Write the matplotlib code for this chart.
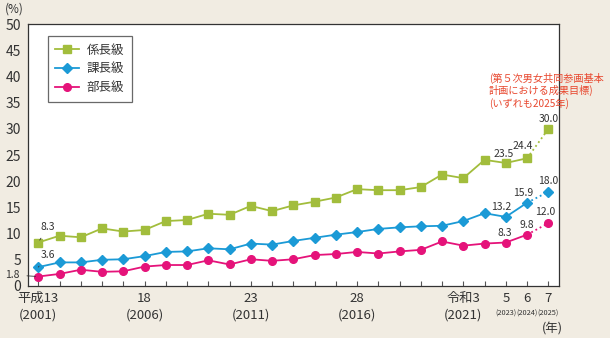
import matplotlib.pyplot as plt

plt.rcParams['font.family'] = ['Noto Sans CJK JP', 'DejaVu Sans']

years = list(range(2001, 2025))
kakari = [8.3, 9.6, 9.3, 11.0, 10.4, 10.7, 12.4, 12.6, 13.8, 13.6, 15.3, 14.3,
          15.4, 16.1, 16.9, 18.5, 18.3, 18.3, 18.9, 21.3, 20.6, 24.1, 23.5, 24.4]
kacho = [3.6, 4.5, 4.5, 5.0, 5.1, 5.7, 6.5, 6.6, 7.2, 7.0, 8.1, 7.9,
         8.6, 9.2, 9.8, 10.3, 10.9, 11.2, 11.4, 11.5, 12.4, 13.9, 13.2, 15.9]
bucho = [1.8, 2.3, 3.1, 2.7, 2.8, 3.7, 4.0, 4.0, 4.9, 4.1, 5.1, 4.8,
         5.1, 5.9, 6.1, 6.5, 6.2, 6.6, 6.9, 8.5, 7.7, 8.1, 8.3, 9.8]
target_year = 2025
targets = {'kakari': 30.0, 'kacho': 18.0, 'bucho': 12.0}

tick_years = [2001, 2006, 2011, 2016, 2021]
tick_top = ['平成13', '18', '23', '28', '令和3']
tick_bottom = ['(2001)', '(2006)', '(2011)', '(2016)', '(2021)']
small_years = [2023, 2024, 2025]
small_top = ['5', '6', '7']

green = '#a2bd3c'
blue = '#1b9ad6'
pink = '#e5137a'
bg = '#f1ece2'
txt = '#333333'

fig = plt.figure(figsize=(6.1, 3.38), dpi=100, facecolor=bg)
ax = fig.add_axes([0.0464, 0.154, 0.8706, 0.774])
ax.set_facecolor('white')

ax.plot(years, kakari, color=green, marker='s', markersize=5.2, lw=1.3, label='係長級')
ax.plot(years, kacho, color=blue, marker='D', markersize=4.8, lw=1.3, label='課長級')
ax.plot(years, bucho, color=pink, marker='o', markersize=5.5, lw=1.3, label='部長級')

# dotted segments to 2025 targets
for vals, key, c, m, ms in [(kakari, 'kakari', green, 's', 5.2),
                            (kacho, 'kacho', blue, 'D', 4.8),
                            (bucho, 'bucho', pink, 'o', 5.5)]:
    ax.plot([years[-1], target_year], [vals[-1], targets[key]], color=c, lw=1.3, ls=':')
    ax.plot([target_year], [targets[key]], color=c, marker=m, markersize=ms, ls='none')

ax.set_xlim(2000.53, 2025.52)
ax.set_ylim(0, 50)
ax.set_yticks(range(0, 51, 5))
ax.tick_params(axis='y', length=0, labelsize=10, colors=txt, pad=5)
ax.set_xticks(range(2001, 2026))
ax.set_xticklabels([])
ax.tick_params(axis='x', direction='in', length=3.5, color='#555555')
for s in ax.spines.values():
    s.set_color('#333333')
    s.set_linewidth(0.9)

for x, t, b in zip(tick_years, tick_top, tick_bottom):
    ax.text(x, -2.4, t, ha='center', va='center', fontsize=9.5, color=txt)
    ax.text(x, -5.5, b, ha='center', va='center', fontsize=9.5, color=txt)
for x, t in zip(small_years, small_top):
    ax.text(x, -2.4, t, ha='center', va='center', fontsize=9.5, color=txt)
    ax.text(x, -5.3, '(%d)' % x, ha='center', va='center', fontsize=5.3, color=txt)
ax.text(2025.2, -8.3, '(年)', ha='center', va='center', fontsize=9, color=txt)
ax.text(-0.027, 1.057, '(%)', transform=ax.transAxes, ha='center', va='center',
        fontsize=8.5, color=txt)

leg = ax.legend(loc='upper left', bbox_to_anchor=(0.037, 0.954), fontsize=9,
                frameon=True, fancybox=False, edgecolor='#444444', borderaxespad=0,
                handlelength=1.9, handletextpad=0.6, labelspacing=0.45, borderpad=0.6)
leg.get_frame().set_linewidth(0.9)
for t in leg.get_texts():
    t.set_color(txt)

# value labels
lab = dict(fontsize=7.5, color=txt, ha='center', va='center')
arr = dict(arrowstyle='-', color='#333333', lw=0.6, shrinkA=3, shrinkB=2)
ax.annotate('8.3', xy=(2001, kakari[0]), xytext=(2001.45, 11.3), arrowprops=arr, **lab)
ax.annotate('3.6', xy=(2001, kacho[0]), xytext=(2001.45, 5.9), arrowprops=arr, **lab)
ax.annotate('1.8', xy=(2001, bucho[0]), xytext=(1999.8, 2.1), annotation_clip=False,
            arrowprops=arr, **lab)
ax.text(2022.9, 25.2, '23.5', **lab)
ax.text(2023.8, 26.7, '24.4', **lab)
ax.text(2025, 31.9, '30.0', **lab)
ax.text(2022.8, 15.0, '13.2', **lab)
ax.text(2023.8, 17.8, '15.9', **lab)
ax.text(2025, 20.0, '18.0', **lab)
ax.text(2022.95, 10.1, '8.3', **lab)
ax.text(2024, 11.6, '9.8', **lab)
ax.text(2024.85, 14.1, '12.0', **lab)

ax.text(2022.2, 37.3, '(第５次男女共同参画基本\n計画における成果目標)\n(いずれも2025年)',
        fontsize=7.3, color='#e8472e', ha='left', va='center', linespacing=1.2,
        clip_on=False)

fig.savefig('out.png', dpi=100, facecolor=bg)
